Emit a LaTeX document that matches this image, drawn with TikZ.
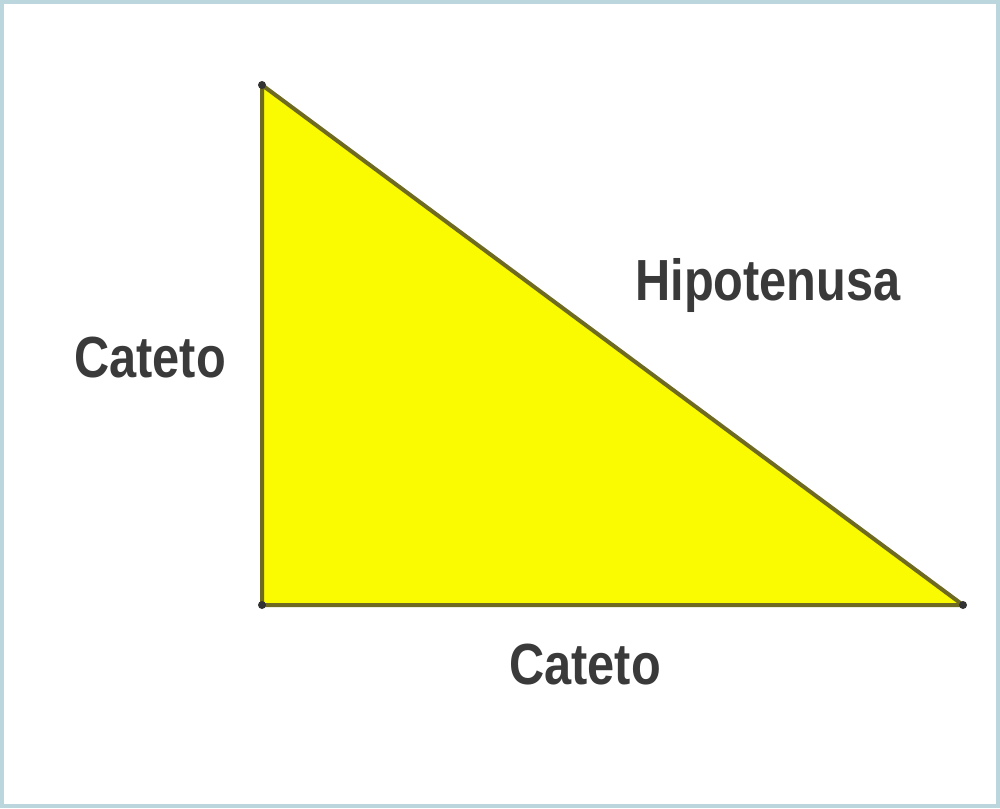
\documentclass[tikz,border=0pt]{standalone}
\usepackage{fontspec}
\newfontfamily\labelfont[FakeStretch=0.84]{Liberation Sans}
\definecolor{frame}{HTML}{BCD6DE}
\definecolor{edge}{HTML}{6E6A22}
\definecolor{fillyellow}{HTML}{FAFA00}
\definecolor{txt}{HTML}{3A3A3A}
\begin{document}
\begin{tikzpicture}[x=0.5pt,y=-0.5pt,
  lbl/.style={font=\labelfont\bfseries\fontsize{29}{32}\selectfont,text=txt,inner sep=0pt,anchor=base},
  vdot/.style={circle,fill=black!80,inner sep=0pt,minimum size=4pt}]
\useasboundingbox (0,0) rectangle (1000,808);
\fill[white] (0,0) rectangle (1000,808);
\draw[frame,line width=1.8pt] (1.8,1.8) rectangle (998.2,806.2);
\coordinate (A) at (262,85);
\coordinate (B) at (262,605);
\coordinate (C) at (963,605);
\filldraw[fill=fillyellow,draw=edge,line width=2pt,line join=round] (A) -- (B) -- (C) -- cycle;
\node[vdot] at (A) {};
\node[vdot] at (B) {};
\node[vdot] at (C) {};
\node[lbl] (c1) at (150,377) {Cateto};
\node[lbl] (hyp) at (768,300) {Hipotenusa};
\node[lbl] (c2) at (585,684) {Cateto};
\end{tikzpicture}
\end{document}
